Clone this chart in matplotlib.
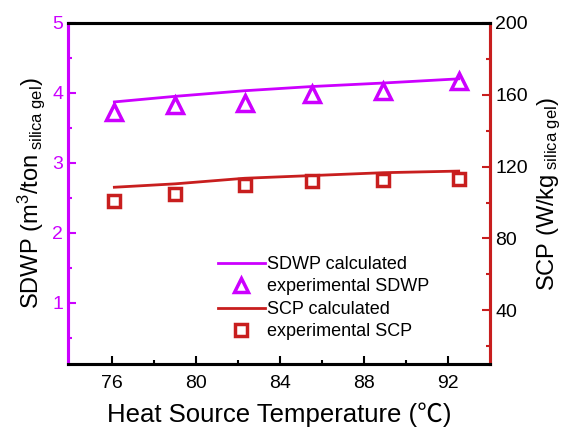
import matplotlib
matplotlib.use("Agg")
import matplotlib.pyplot as plt
from matplotlib.lines import Line2D

plt.rcParams["font.family"] = ["Liberation Sans", "Noto Sans CJK SC", "DejaVu Sans"]
plt.rcParams["mathtext.fontset"] = "custom"
plt.rcParams["mathtext.rm"] = "Liberation Sans"
plt.rcParams["mathtext.it"] = "Liberation Sans"
plt.rcParams["mathtext.default"] = "regular"

# data
temp = [76.1, 79.0, 82.3, 85.5, 88.9, 92.5]
sdwp_calc = [3.87, 3.95, 4.03, 4.09, 4.14, 4.20]
sdwp_exp = [3.72, 3.83, 3.85, 3.99, 4.03, 4.17]
scp_calc = [108.5, 110.4, 113.5, 115.0, 116.6, 117.5]
scp_exp = [100.7, 105.0, 110.0, 112.0, 112.5, 113.0]

MAGENTA = "#cc00ff"
RED = "#c81e1e"

fig = plt.figure(figsize=(5.68, 4.32), dpi=100)
ax = fig.add_axes([0.12, 0.157, 0.743, 0.79])
ax2 = ax.twinx()

ax.plot(temp, sdwp_calc, color=MAGENTA, lw=2)
ax.plot(temp, sdwp_exp, ls="none", marker="^", ms=12, mfc="none",
        mec=MAGENTA, mew=2.5)
ax2.plot(temp, scp_calc, color=RED, lw=2)
ax2.plot(temp, scp_exp, ls="none", marker="s", ms=9, mfc="none",
         mec=RED, mew=2.5)

ax.set_xlim(73.9, 94)
ax.set_ylim(0.12, 5)
ax2.set_ylim(10, 200)

ax.set_xticks([76, 80, 84, 88, 92])
ax.set_xticks([78, 82, 86, 90], minor=True)
ax.set_yticks([1, 2, 3, 4, 5])
ax.set_yticks([0.5, 1.5, 2.5, 3.5, 4.5], minor=True)
ax2.set_yticks([40, 80, 120, 160, 200])
ax2.set_yticks([20, 60, 100, 140, 180], minor=True)

ax.tick_params(axis="x", which="both", direction="in", top=False,
               labelsize=14, width=1.5, pad=8)
ax.tick_params(axis="x", which="major", length=6)
ax.tick_params(axis="x", which="minor", length=3)
ax.tick_params(axis="y", which="both", direction="in", colors=MAGENTA,
               labelsize=14, width=1.5)
ax.tick_params(axis="y", which="major", length=6)
ax.tick_params(axis="y", which="minor", length=3)
ax2.tick_params(axis="y", which="both", direction="in", color=RED,
                labelcolor="black", labelsize=14, width=1.5)
ax2.tick_params(axis="y", which="major", length=6)
ax2.tick_params(axis="y", which="minor", length=3)

for a in (ax, ax2):
    for s in a.spines.values():
        s.set_linewidth(2.2)
ax2.spines["left"].set_color(MAGENTA)
ax2.spines["right"].set_color(RED)
ax.spines["left"].set_color(MAGENTA)
ax.spines["right"].set_color(RED)

ax.set_xlabel("Heat Source Temperature (℃)", fontsize=18.5, labelpad=7)
ax.set_ylabel(r"SDWP (m$^3$/ton$_{\ silica\ gel}$)", fontsize=17, labelpad=4)
ax2.set_ylabel(r"SCP (W/kg$_{\ silica\ gel}$)", fontsize=17, labelpad=6)

handles = [
    Line2D([], [], color=MAGENTA, lw=2),
    Line2D([], [], ls="none", marker="^", ms=10, mfc="none", mec=MAGENTA, mew=2.5),
    Line2D([], [], color=RED, lw=2),
    Line2D([], [], ls="none", marker="s", ms=8, mfc="none", mec=RED, mew=2.5),
]
labels = ["SDWP calculated", "experimental SDWP", "SCP calculated",
          "experimental SCP"]
ax2.legend(handles, labels, loc="lower left", bbox_to_anchor=(0.355, 0.07),
           frameon=False, fontsize=13, handlelength=2.6, handletextpad=0.1,
           labelspacing=0.3, borderaxespad=0, borderpad=0)

fig.savefig("out.png", dpi=100)
